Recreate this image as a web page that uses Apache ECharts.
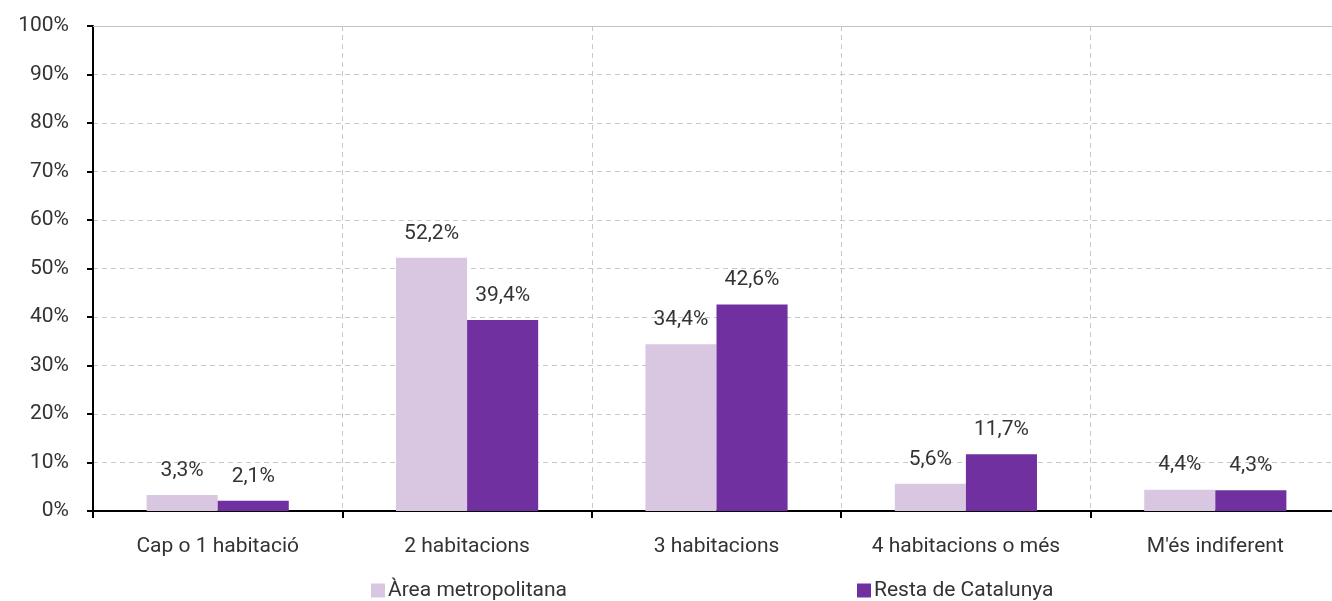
<!DOCTYPE html>
<html><head><meta charset="utf-8">
<script src="https://cdn.jsdelivr.net/npm/echarts@6/dist/echarts.min.js"></script>
<style>html,body{margin:0;padding:0;background:#fff}#c{width:1332px;height:601px}</style>
</head><body><div id="c"></div>
<script>
const categories = ["Cap o 1 habitació","2 habitacions","3 habitacions","4 habitacions o més","M'és indiferent"];
const seriesNames = ["Àrea metropolitana","Resta de Catalunya"];
const areaMetro = [3.3,52.2,34.4,5.6,4.4];
const restaCat = [2.1,39.4,42.6,11.7,4.3];
const FONT = 'Roboto,sans-serif';
const fmt = v => v.toFixed(1).replace('.', ',') + '%';
const chart = echarts.init(document.getElementById('c'));
const lbl = {show:true, position:'top', distance:14, color:'#333', fontSize:21, fontFamily:FONT, formatter:p=>fmt(p.value)};
chart.setOption({
  animation:false,
  textStyle:{fontFamily:FONT},
  grid:{left:93, top:26, right:-8, bottom:90, containLabel:false, outerBoundsMode:'none'},
  legend:{top:575, left:366, itemGap:290, itemWidth:14, itemHeight:14, icon:'rect',
    textStyle:{fontSize:21, color:'#333', fontFamily:FONT, padding:[0,0,0,-2]}, data:seriesNames},
  xAxis:[{type:'category', data:categories,
    axisLine:{lineStyle:{color:'#000', width:2}},
    axisTick:{show:true, length:7, lineStyle:{color:'#000', width:2}},
    axisLabel:{color:'#333', fontSize:21, fontFamily:FONT, margin:25},
    splitLine:{show:true, lineStyle:{type:[5,4], color:'#c8c8c8', width:1}}},
   {type:'category', data:categories, position:'top',
    axisLine:{show:true, lineStyle:{color:'#c4c4c4', width:1}},
    axisTick:{show:false}, axisLabel:{show:false}, splitLine:{show:false}}],
  yAxis:{type:'value', min:0, max:100, interval:10,
    axisLine:{show:true, lineStyle:{color:'#000', width:2}},
    axisTick:{show:true, length:6, lineStyle:{color:'#000', width:2}},
    axisLabel:{color:'#333', fontSize:21, fontFamily:FONT, margin:24, formatter:v=>v+'%'},
    splitLine:{show:true, lineStyle:{type:[5,4], color:'#c8c8c8', width:1}}},
  series:[
    {name:seriesNames[0], type:'bar', data:areaMetro, itemStyle:{color:'#d9c7e2'}, barGap:'0%', barCategoryGap:'43%', label:lbl},
    {name:seriesNames[1], type:'bar', data:restaCat, itemStyle:{color:'#7030a0'}, barGap:'0%', barCategoryGap:'43%', label:lbl}
  ]
});
</script></body></html>
